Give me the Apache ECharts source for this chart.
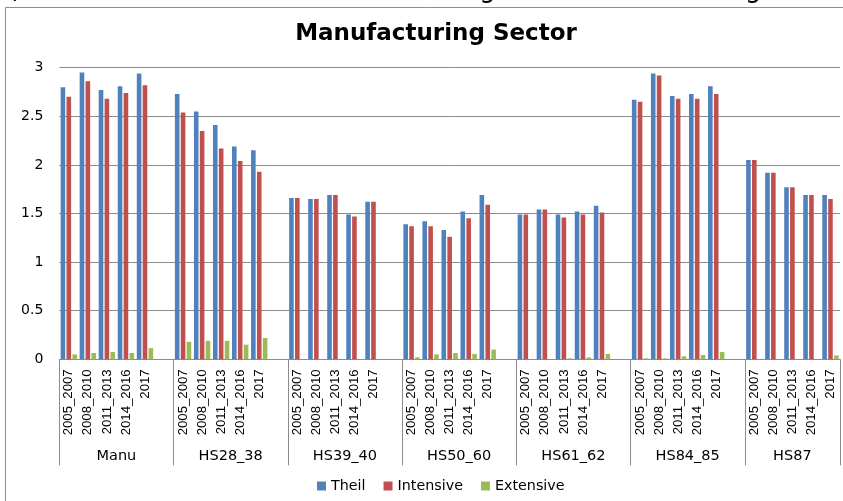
<!DOCTYPE html>
<html>
<head>
<meta charset="utf-8">
<script src="https://cdn.jsdelivr.net/npm/echarts@6/dist/echarts.min.js"></script>
<style>
html,body{margin:0;padding:0;background:#fff;}
#chart{width:843px;height:501px;}
</style>
</head>
<body>
<div id="chart"></div>
<script>
const groups = ['Manu', 'HS28_38', 'HS39_40', 'HS50_60', 'HS61_62', 'HS84_85', 'HS87'];
const periods = ['2005_2007', '2008_2010', '2011_2013', '2014_2016', '2017'];
const seriesNames = ['Theil', 'Intensive', 'Extensive'];
const theil = [
  2.80, 2.95, 2.77, 2.81, 2.94,
  2.73, 2.55, 2.41, 2.19, 2.15,
  1.66, 1.65, 1.69, 1.49, 1.62,
  1.39, 1.42, 1.33, 1.52, 1.69,
  1.49, 1.54, 1.49, 1.52, 1.58,
  2.67, 2.94, 2.71, 2.73, 2.81,
  2.05, 1.92, 1.77, 1.69, 1.69
];
const intensive = [
  2.70, 2.86, 2.68, 2.74, 2.82,
  2.54, 2.35, 2.17, 2.04, 1.93,
  1.66, 1.65, 1.69, 1.47, 1.62,
  1.37, 1.37, 1.26, 1.45, 1.59,
  1.49, 1.54, 1.46, 1.49, 1.51,
  2.65, 2.92, 2.68, 2.68, 2.73,
  2.05, 1.92, 1.77, 1.69, 1.65
];
const extensive = [
  0.05, 0.065, 0.075, 0.065, 0.115,
  0.18, 0.19, 0.19, 0.15, 0.22,
  0, 0, 0, 0, 0,
  0.02, 0.05, 0.065, 0.055, 0.10,
  0, 0, 0.01, 0.02, 0.055,
  0.01, 0.01, 0.03, 0.045, 0.075,
  0, 0, 0, 0, 0.04
];
const colors = ['#4F81BD', '#C0504D', '#9BBB59'];

// Build category list with an empty slot after each group (except the last)
const cats = [];
const boundaryIdx = [];
const slotMap = []; // index into value arrays or -1
groups.forEach((g, gi) => {
  boundaryIdx.push(cats.length);
  periods.forEach((p, pi) => { cats.push(p); slotMap.push(gi * periods.length + pi); });
  if (gi < groups.length - 1) { cats.push(''); slotMap.push(-1); }
});
function expand(arr) { return slotMap.map(k => k < 0 ? null : arr[k]); }

// Group label axis: points at half-category resolution (boundaryGap false)
const halfCount = cats.length * 2 + 1;
const groupAxis = new Array(halfCount).fill('');
groups.forEach((g, gi) => {
  const start = boundaryIdx[gi];
  const end = gi < groups.length - 1 ? boundaryIdx[gi + 1] : cats.length;
  groupAxis[start + end] = g;
});

const chart = echarts.init(document.getElementById('chart'), null, {renderer: 'canvas'});
const axisGray = '#8c8c8c';
const baseFont = 'DejaVu Sans';
chart.setOption({
  backgroundColor: '#fff',
  animation: false,
  title: {
    text: 'Manufacturing Sector',
    left: 436, top: 23, padding: 0, textAlign: 'center',
    textStyle: {fontFamily: baseFont, fontWeight: 'bold', fontSize: 23, color: '#000'}
  },
  graphic: [
    {type: 'rect', silent: true, shape: {x: 5.5, y: 7.5, width: 900, height: 600},
     style: {fill: 'none', stroke: '#8c8c8c', lineWidth: 1}},
    {type: 'text', silent: true, style: {text: '3) Theil, Intensive and extensive margins in Manufacturing Sector',
      x: -5, y: 3, font: '26px "DejaVu Sans"', verticalAlign: 'bottom', fill: '#000'}}
  ],
  legend: {
    data: seriesNames,
    left: 312, top: 474,
    itemWidth: 9, itemHeight: 9, itemGap: 18,
    icon: 'rect',
    textStyle: {fontFamily: baseFont, fontSize: 14.3, color: '#000'}
  },
  grid: {left: 59.3, right: 3, top: 67.7, bottom: 141.7, containLabel: false},
  xAxis: [
    {
      type: 'category', data: cats, position: 'bottom', boundaryGap: true,
      axisLine: {lineStyle: {color: axisGray, width: 1}},
      axisTick: {show: true, length: 106, interval: (i) => boundaryIdx.indexOf(i) >= 0,
                 lineStyle: {color: axisGray, width: 1}},
      axisLabel: {interval: 0, rotate: 90, margin: 10, color: '#000',
                  fontFamily: 'Liberation Sans', fontSize: 13.2},
      splitLine: {show: false}
    },
    {
      type: 'category', data: groupAxis, position: 'bottom', boundaryGap: false,
      axisLine: {show: false}, axisTick: {show: false}, splitLine: {show: false},
      axisLabel: {interval: 0, margin: 89, color: '#000', fontFamily: baseFont, fontSize: 14.5}
    }
  ],
  yAxis: {
    type: 'value', min: 0, max: 3, interval: 0.5,
    axisLine: {show: false}, axisTick: {show: false},
    axisLabel: {margin: 16, color: '#000', fontFamily: baseFont, fontSize: 14},
    splitLine: {lineStyle: {color: axisGray, width: 1}}
  },
  series: [
    {name: 'Theil', type: 'bar', data: expand(theil), itemStyle: {color: colors[0]}, barWidth: 4.6, barGap: '28%'},
    {name: 'Intensive', type: 'bar', data: expand(intensive), itemStyle: {color: colors[1]}, barWidth: 4.6, barGap: '28%'},
    {name: 'Extensive', type: 'bar', data: expand(extensive), itemStyle: {color: colors[2]}, barWidth: 4.6, barGap: '28%'}
  ]
});
</script>
</body>
</html>
